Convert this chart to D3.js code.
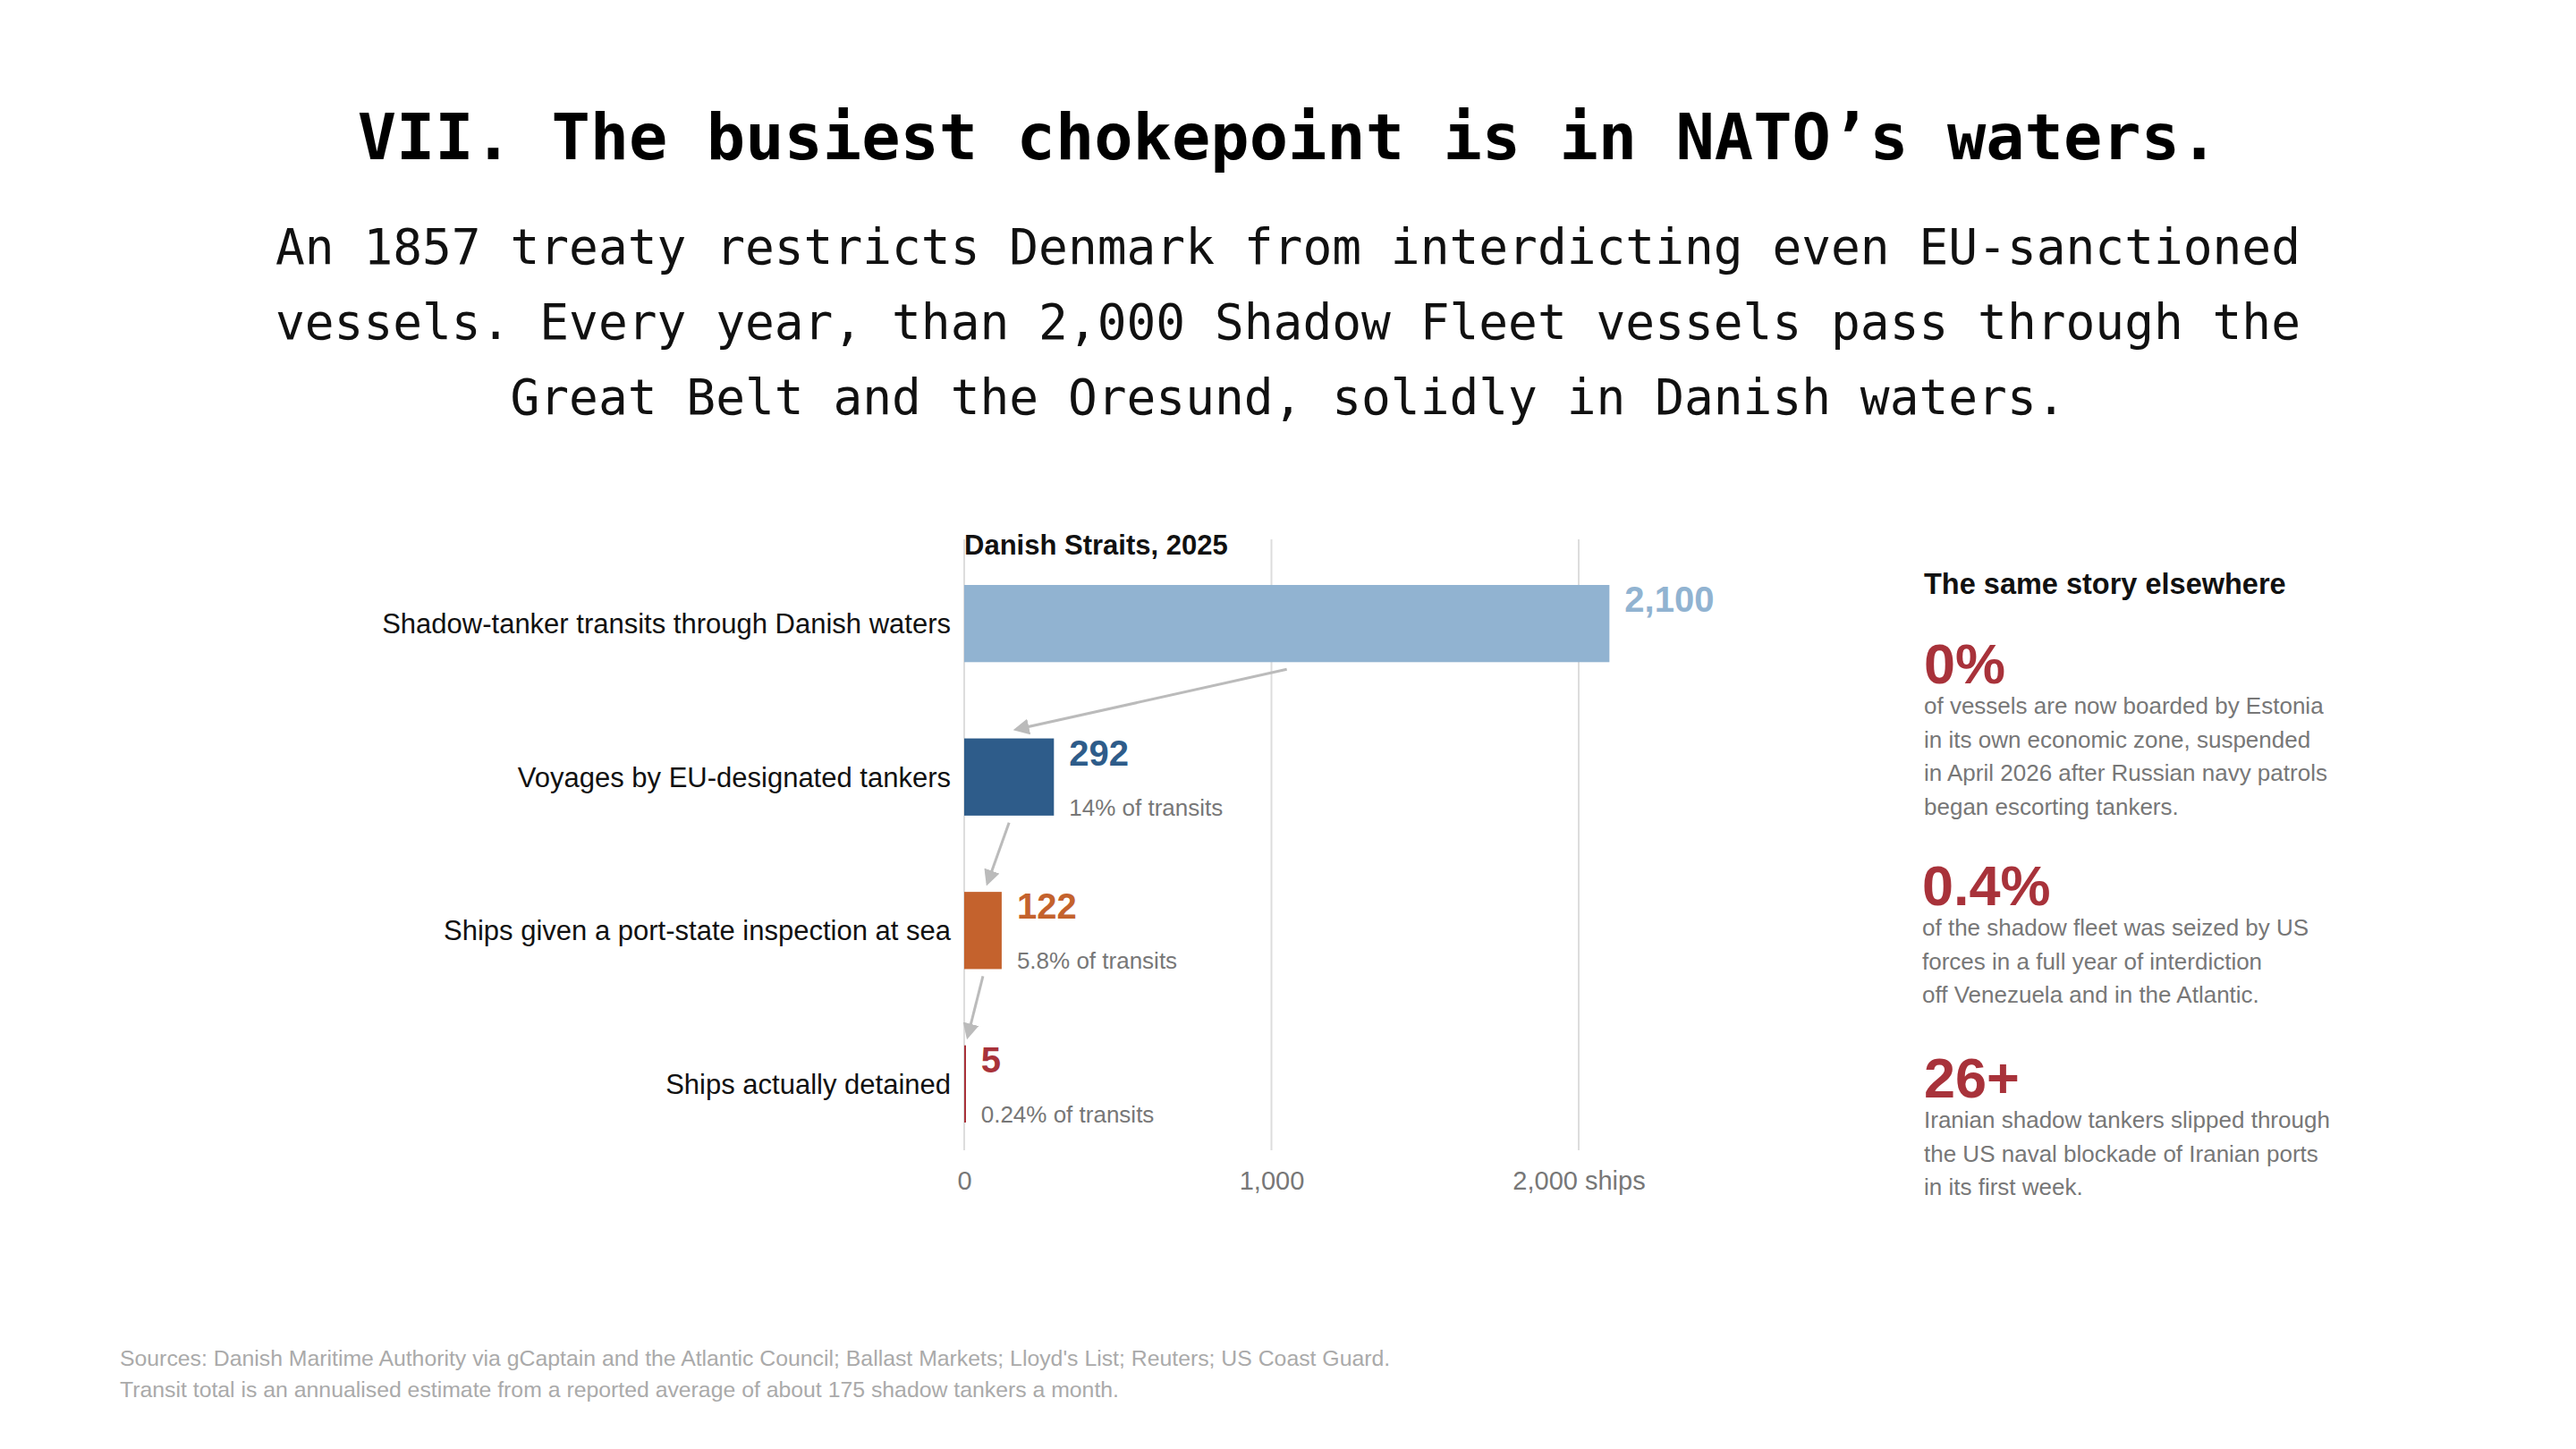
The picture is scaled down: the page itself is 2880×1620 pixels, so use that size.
<!DOCTYPE html>
<html>
<head>
<meta charset="utf-8">
<title>Danish Straits</title>
<script src="https://cdn.jsdelivr.net/npm/d3@7"></script>
<style>
body { margin: 0; background: #fff; }
svg { display: block; }
.title { font-family: "DejaVu Sans Mono", monospace; font-weight: bold; font-size: 72px; }
.sub { font-family: "DejaVu Sans Mono", monospace; font-size: 54.5px; fill: #111; }
.cat { font-family: "Liberation Sans", Arial, sans-serif; font-size: 31px; fill: #111; }
.val { font-family: "Liberation Sans", Arial, sans-serif; font-size: 40px; font-weight: bold; }
.pct { font-family: "Liberation Sans", Arial, sans-serif; font-size: 26px; fill: #777; }
.tick text { font-family: "Liberation Sans", Arial, sans-serif; font-size: 29px; fill: #777; }
.side { font-family: "Liberation Sans", Arial, sans-serif; }
</style>
</head>
<body>
<script>
// chart data
var categories = ["Shadow-tanker transits through Danish waters", "Voyages by EU-designated tankers",
                  "Ships given a port-state inspection at sea", "Ships actually detained"];
var values = [2100, 292, 122, 5];
var shares = [null, "14% of transits", "5.8% of transits", "0.24% of transits"];
var colors = ["#91b3d1", "#2e5c8a", "#c4622d", "#a8323a"];
var ticks = [0, 1000, 2000];

// right-hand panel
var sideNumbers = ["0%", "0.4%", "26+"];
var sideTexts = [
  ["of vessels are now boarded by Estonia", "in its own economic zone, suspended", "in April 2026 after Russian navy patrols", "began escorting tankers."],
  ["of the shadow fleet was seized by US", "forces in a full year of interdiction", "off Venezuela and in the Atlantic."],
  ["Iranian shadow tankers slipped through", "the US naval blockade of Iranian ports", "in its first week."]
];
var subtitle = ["An 1857 treaty restricts Denmark from interdicting even EU-sanctioned",
                "vessels. Every year, than 2,000 Shadow Fleet vessels pass through the",
                "Great Belt and the Oresund, solidly in Danish waters."];
var sources = ["Sources: Danish Maritime Authority via gCaptain and the Atlantic Council; Ballast Markets; Lloyd's List; Reuters; US Coast Guard.",
               "Transit total is an annualised estimate from a reported average of about 175 shadow tankers a month."];

var width = 2880, height = 1620;
var svg = d3.select("body").append("svg").attr("width", width).attr("height", height);

svg.append("text").attr("class", "title").attr("x", width / 2).attr("y", 178)
  .attr("text-anchor", "middle").text("VII. The busiest chokepoint is in NATO\u2019s waters.");

svg.selectAll("text.sub").data(subtitle).enter().append("text")
  .attr("class", "sub").attr("x", width / 2).attr("y", function(d, i) { return 295 + i * 84; })
  .attr("text-anchor", "middle").text(function(d) { return d; });

var x = d3.scaleLinear().domain([0, 2000]).range([1078, 1765]);
var y = d3.scaleBand().domain(categories).range([654, 1255]).paddingInner(0.497).paddingOuter(0);

var g = svg.append("g");

// gridlines + axis
var axis = g.append("g").attr("transform", "translate(0,1286)")
  .call(d3.axisBottom(x).tickValues(ticks).tickSize(0).tickPadding(23)
    .tickFormat(function(d) { return d === 2000 ? "2,000 ships" : d3.format(",")(d); }));
axis.select(".domain").remove();
g.selectAll("line.grid").data(ticks).enter().append("line")
  .attr("x1", x).attr("x2", x).attr("y1", 603).attr("y2", 1286)
  .attr("stroke", "#ddd").attr("stroke-width", 2);

g.append("text").attr("x", 1078).attr("y", 620).attr("class", "side")
  .attr("font-size", 31).attr("font-weight", "bold").attr("fill", "#111").text("Danish Straits, 2025");

var data = categories.map(function(c, i) { return { cat: c, v: values[i], share: shares[i], color: colors[i] }; });

g.selectAll("rect.bar").data(data).enter().append("rect")
  .attr("x", x(0)).attr("y", function(d) { return y(d.cat); })
  .attr("width", function(d) { return Math.max(2, x(d.v) - x(0)); })
  .attr("height", y.bandwidth()).attr("fill", function(d) { return d.color; });

g.selectAll("text.cat").data(data).enter().append("text")
  .attr("class", "cat").attr("x", x(0) - 15).attr("y", function(d) { return y(d.cat) + y.bandwidth() / 2 + 11; })
  .attr("text-anchor", "end").text(function(d) { return d.cat; });

g.selectAll("text.val").data(data).enter().append("text")
  .attr("class", "val").attr("x", function(d) { return x(d.v) + 17; })
  .attr("y", function(d) { return y(d.cat) + 30; })
  .attr("fill", function(d) { return d.color; }).text(function(d) { return d3.format(",")(d.v); });

g.selectAll("text.pct").data(data.filter(function(d) { return d.share; })).enter().append("text")
  .attr("class", "pct").attr("x", function(d) { return x(d.v) + 17; })
  .attr("y", function(d) { return y(d.cat) + 86; }).text(function(d) { return d.share; });

// arrows between bars
svg.append("defs").append("marker").attr("id", "ah").attr("viewBox", "0 0 10 10")
  .attr("refX", 8).attr("refY", 5).attr("markerWidth", 6).attr("markerHeight", 6)
  .attr("orient", "auto-start-reverse").attr("markerUnits", "strokeWidth")
  .append("path").attr("d", "M0,0L10,5L0,10z").attr("fill", "#bbb");
var pairs = d3.pairs(data);
g.selectAll("line.arrow").data(pairs).enter().append("line")
  .attr("x1", function(p) { return x(p[0].v / 2); })
  .attr("y1", function(p) { return y(p[0].cat) + y.bandwidth() + 8; })
  .attr("x2", function(p) { return x(p[1].v * 0.55) + 3; })
  .attr("y2", function(p) { return y(p[1].cat) - 10; })
  .attr("stroke", "#bbb").attr("stroke-width", 3).attr("marker-end", "url(#ah)");

// side panel
var side = svg.append("g").attr("class", "side");
side.append("text").attr("x", 2151).attr("y", 664).attr("font-size", 32.5).attr("font-weight", "bold")
  .attr("fill", "#111").text("The same story elsewhere");
var blockY = [764, 1012, 1227];
sideNumbers.forEach(function(n, i) {
  var bx = i === 1 ? 2149 : 2151;
  side.append("text").attr("x", bx).attr("y", blockY[i]).attr("font-size", 63).attr("font-weight", "bold")
    .attr("fill", "#a8323a").text(n);
  side.selectAll(null).data(sideTexts[i]).enter().append("text")
    .attr("x", bx).attr("y", function(d, j) { return blockY[i] + 34 + j * 37.7; })
    .attr("font-size", 26).attr("fill", "#777").text(function(d) { return d; });
});

svg.selectAll("text.src").data(sources).enter().append("text")
  .attr("class", "side").attr("x", 134).attr("y", function(d, i) { return 1527 + i * 35; })
  .attr("font-size", 24.8).attr("fill", "#aaa").text(function(d) { return d; });
</script>
</body>
</html>
